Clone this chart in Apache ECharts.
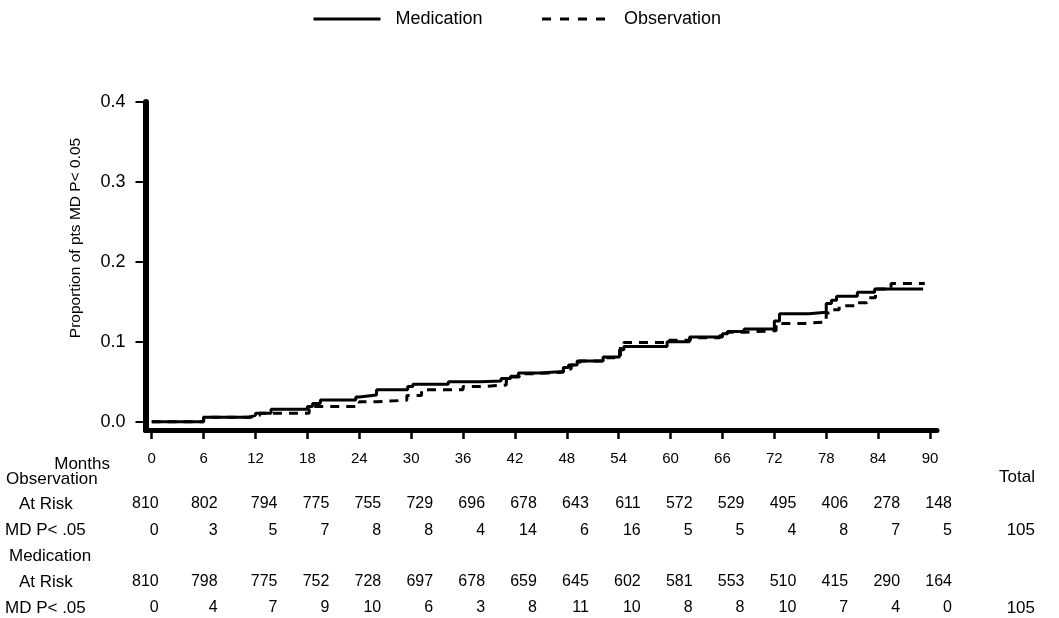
<!DOCTYPE html>
<html>
<head>
<meta charset="utf-8">
<script src="https://cdn.jsdelivr.net/npm/echarts@6/dist/echarts.min.js"></script>
<style>
  html, body { margin: 0; padding: 0; background: #fff; }
  #chart { width: 1059px; height: 618px; }
</style>
</head>
<body>
<div id="chart"></div>
<script>
// ---------- data ----------
const monthTicks = [0, 6, 12, 18, 24, 30, 36, 42, 48, 54, 60, 66, 72, 78, 84, 90];
const yTicks = [0, 0.1, 0.2, 0.3, 0.4];

// Kaplan-Meier style cumulative proportions [month, proportion]
const medicationCurve = [
  [0, 0], [6, 0.0056], [11.2, 0.008], [12, 0.0106], [13.8, 0.0156],
  [18, 0.019], [18.6, 0.023], [19.5, 0.0273], [23.6, 0.031], [24, 0.0335],
  [26, 0.040], [29.6, 0.044], [30.2, 0.047], [34.3, 0.050], [38, 0.051],
  [40.4, 0.054], [41.5, 0.057], [42.4, 0.061], [44.8, 0.063], [47.6, 0.068],
  [48.2, 0.071], [49.2, 0.076], [52.2, 0.081], [54.1, 0.090], [54.6, 0.094],
  [59.6, 0.100], [62.2, 0.106], [66.0, 0.110], [66.6, 0.113], [68.5, 0.116],
  [72.0, 0.126], [72.6, 0.135], [76.0, 0.137], [78.0, 0.148], [78.6, 0.152],
  [79.2, 0.157], [81.6, 0.162], [83.6, 0.166], [89.2, 0.166]
];
const observationCurve = [
  [0, 0], [6, 0.0056], [11.5, 0.008], [12.5, 0.0106], [18.2, 0.015],
  [18.6, 0.019], [24, 0.025], [26, 0.027], [29.5, 0.033], [31.2, 0.040],
  [36, 0.044], [38, 0.046], [41, 0.052], [41.6, 0.056], [42.5, 0.060],
  [44, 0.062], [47.6, 0.066], [48.5, 0.071], [49.5, 0.076], [52.2, 0.080],
  [54.2, 0.094], [54.6, 0.099], [59.6, 0.102], [62.3, 0.105], [65.7, 0.108],
  [66.5, 0.112], [68.5, 0.114], [72.2, 0.123], [75.5, 0.125], [78.0, 0.136],
  [78.5, 0.140], [79.5, 0.145], [81.5, 0.149], [82.7, 0.155], [83.7, 0.166],
  [85.5, 0.173], [89.4, 0.173]
];

const obsAtRisk = [810, 802, 794, 775, 755, 729, 696, 678, 643, 611, 572, 529, 495, 406, 278, 148];
const obsEvents = [0, 3, 5, 7, 8, 8, 4, 14, 6, 16, 5, 5, 4, 8, 7, 5];
const medAtRisk = [810, 798, 775, 752, 728, 697, 678, 659, 645, 602, 581, 553, 510, 415, 290, 164];
const medEvents = [0, 4, 7, 9, 10, 6, 3, 8, 11, 10, 8, 8, 10, 7, 4, 0];
const totals = [105, 105];

const seriesNames = ['Medication', 'Observation'];
const yAxisTitle = 'Proportion of pts MD P< 0.05';
const rowLabels = ['Months', 'Observation', 'At Risk', 'MD P< .05', 'Medication', 'At Risk', 'MD P< .05', 'Total'];

// ---------- layout / style ----------
const FONT = "'Liberation Sans', Arial, Helvetica, sans-serif";
const X_MIN = -0.72, X_MAX = 90.81;

function tableAxis(values, offset) {
  const cell = { align: 'right', fontSize: 16, fontFamily: FONT, color: '#000' };
  return {
    type: 'value', position: 'bottom', gridIndex: 0,
    min: X_MIN, max: X_MAX, offset: offset,
    axisLine: { show: false, onZero: false }, axisTick: { show: false }, splitLine: { show: false },
    axisLabel: {
      customValues: monthTicks, margin: 0, interval: 0, align: 'center',
      color: '#000', fontFamily: FONT, fontSize: 16,
      formatter: function (v) {
        const i = Math.round(v / 6);
        const key = i === 0 ? 'c0' : (i === 1 ? 'c1' : 'cn');
        return '{' + key + '|' + values[i] + '}';
      },
      rich: {
        c0: Object.assign({ width: 14 }, cell),
        c1: Object.assign({ width: 28 }, cell),
        cn: Object.assign({ width: 44 }, cell)
      }
    }
  };
}

function label(text, x, y, align) {
  return {
    type: 'text', x: x, y: y, silent: true,
    style: { text: text, fill: '#000', font: '17px ' + FONT, align: align, verticalAlign: 'middle' }
  };
}

const chart = echarts.init(document.getElementById('chart'), null, { renderer: 'canvas' });
chart.setOption({
  animation: false,
  backgroundColor: '#fff',
  color: ['#000', '#000'],
  grid: { left: 145.5, top: 102, right: 122, bottom: 188, containLabel: false, outerBoundsMode: 'none' },
  legend: {
    left: 307, top: 5, itemWidth: 67, itemHeight: 14, itemGap: 58,
    textStyle: { color: '#000', fontFamily: FONT, fontSize: 18, padding: [0, 0, 0, 10] },
    itemStyle: { opacity: 0 },
    data: [
      { name: seriesNames[0], itemStyle: { opacity: 0 }, lineStyle: { color: '#000', width: 3, type: 'solid' } },
      { name: seriesNames[1], itemStyle: { opacity: 0 }, lineStyle: { color: '#000', width: 3, type: [9, 9] } }
    ]
  },
  xAxis: [
    {
      type: 'value', position: 'bottom', min: X_MIN, max: X_MAX,
      axisLine: { show: true, onZero: false, lineStyle: { color: '#000', width: 5 } },
      axisTick: { show: true, customValues: monthTicks, length: 9, lineStyle: { color: '#000', width: 2.5 } },
      axisLabel: { customValues: monthTicks, margin: 21, color: '#000', fontFamily: FONT, fontSize: 15 },
      splitLine: { show: false }
    },
    tableAxis(obsAtRisk, 66),
    tableAxis(obsEvents, 93),
    tableAxis(medAtRisk, 144),
    tableAxis(medEvents, 170)
  ],
  yAxis: {
    type: 'value', min: -0.0103, max: 0.4,
    axisLine: { show: true, onZero: false, lineStyle: { color: '#000', width: 6 } },
    axisTick: { show: true, customValues: yTicks, length: 10, lineStyle: { color: '#000', width: 2 } },
    axisLabel: {
      customValues: yTicks, margin: 20, color: '#000', fontFamily: FONT, fontSize: 18,
      formatter: function (v) { return v.toFixed(1); }
    },
    splitLine: { show: false }
  },
  series: [
    {
      name: seriesNames[0], type: 'line', step: 'end', symbol: 'none', showSymbol: false, silent: true,
      data: medicationCurve, z: 3, itemStyle: { color: '#000' },
      lineStyle: { color: '#000', width: 3, type: 'solid' }
    },
    {
      name: seriesNames[1], type: 'line', step: 'end', symbol: 'none', showSymbol: false, silent: true,
      data: observationCurve, z: 2, itemStyle: { color: '#000' },
      lineStyle: { color: '#000', width: 3, type: [9, 7] }
    }
  ],
  graphic: [
    {
      type: 'text', x: 76, y: 238, rotation: Math.PI / 2, silent: true,
      style: { text: yAxisTitle, fill: '#000', font: '15.5px ' + FONT, align: 'center', verticalAlign: 'middle' }
    },
    label(rowLabels[0], 110, 464, 'right'),
    label(rowLabels[1], 6, 479, 'left'),
    label(rowLabels[2], 19, 504, 'left'),
    label(rowLabels[3], 5, 530, 'left'),
    label(rowLabels[4], 9, 556, 'left'),
    label(rowLabels[5], 19, 582, 'left'),
    label(rowLabels[6], 5, 608, 'left'),
    label(rowLabels[7], 1035, 477, 'right'),
    label(String(totals[0]), 1035, 530, 'right'),
    label(String(totals[1]), 1035, 608, 'right')
  ]
});
</script>
</body>
</html>
